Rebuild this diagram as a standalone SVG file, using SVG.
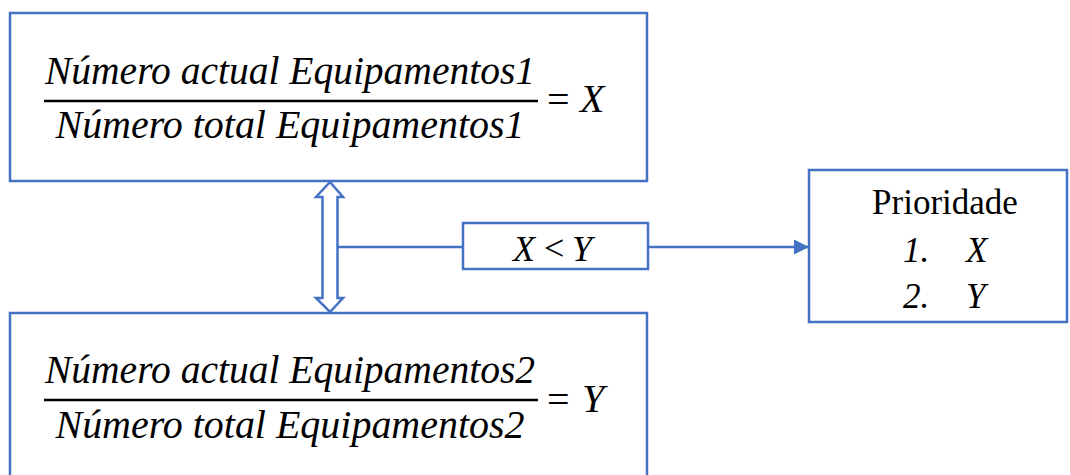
<svg xmlns="http://www.w3.org/2000/svg" width="1070" height="475" viewBox="0 0 1070 475">
<style>
.box{fill:#fff;stroke:#4472C4;stroke-width:2.5}
.ln{fill:none;stroke:#4472C4;stroke-width:2.5}
.m{font-family:"Liberation Serif","DejaVu Serif",serif;font-style:italic;font-size:40px;fill:#000}
.u{font-family:"Liberation Serif","DejaVu Serif",serif;font-size:40px;fill:#000}
.c{font-family:"Liberation Serif","DejaVu Serif",serif;font-size:36px;fill:#000}
.ci{font-family:"Liberation Serif","DejaVu Serif",serif;font-style:italic;font-size:36px;fill:#000}
.p{font-family:"Liberation Serif","DejaVu Serif",serif;font-size:35px;fill:#000}
.pi{font-family:"Liberation Serif","DejaVu Serif",serif;font-style:italic;font-size:35px;fill:#000}
.bar{stroke:#000;stroke-width:2.5}
</style>
<defs>
<marker id="ah" markerWidth="16" markerHeight="16" refX="15" refY="7.5" orient="auto" markerUnits="userSpaceOnUse">
<path d="M0,0 L15,7.5 L0,15 Z" fill="#4472C4"/>
</marker>
</defs>
<g id="connectors">
<path class="box" d="M330,182 L343,197 L337.5,197 L337.5,298 L343,298 L330,312 L316,298 L322.5,298 L322.5,197 L316,197 Z" stroke-linejoin="miter"/>
<line class="ln" x1="337.5" y1="247" x2="463" y2="247"/>
<line class="ln" x1="648" y1="247" x2="809" y2="247" marker-end="url(#ah)"/>
</g>
<g id="node-x">
<rect class="box" x="10" y="13" width="637" height="168"/>
<text class="m" x="290" y="84" text-anchor="middle" textLength="490" lengthAdjust="spacingAndGlyphs">Número actual Equipamentos1</text>
<line class="bar" x1="44" y1="101" x2="538" y2="101"/>
<text class="m" x="290" y="138" text-anchor="middle" textLength="469" lengthAdjust="spacingAndGlyphs">Número total Equipamentos1</text>
<text class="u" x="547" y="113">=</text>
<text class="m" x="580" y="112">X</text>
</g>
<g id="node-y">
<rect class="box" x="10" y="313" width="637" height="175"/>
<text class="m" x="290" y="383" text-anchor="middle" textLength="490" lengthAdjust="spacingAndGlyphs">Número actual Equipamentos2</text>
<line class="bar" x1="44" y1="400" x2="538" y2="400"/>
<text class="m" x="290" y="438" text-anchor="middle" textLength="469" lengthAdjust="spacingAndGlyphs">Número total Equipamentos2</text>
<text class="u" x="547" y="413">=</text>
<text class="m" x="582" y="412">Y</text>
</g>
<g id="node-cmp">
<rect class="box" x="463" y="223" width="185" height="46"/>
<text class="ci" x="513" y="261">X</text>
<text class="c" x="544" y="260">&lt;</text>
<text class="ci" x="572" y="261">Y</text>
</g>
<g id="node-prio">
<rect class="box" x="809" y="170" width="258" height="152"/>
<text class="p" x="945" y="214" text-anchor="middle">Prioridade</text>
<text class="pi" x="903" y="262">1.</text>
<text class="pi" x="966" y="262">X</text>
<text class="pi" x="903" y="308">2.</text>
<text class="pi" x="966" y="308">Y</text>
</g>
</svg>
